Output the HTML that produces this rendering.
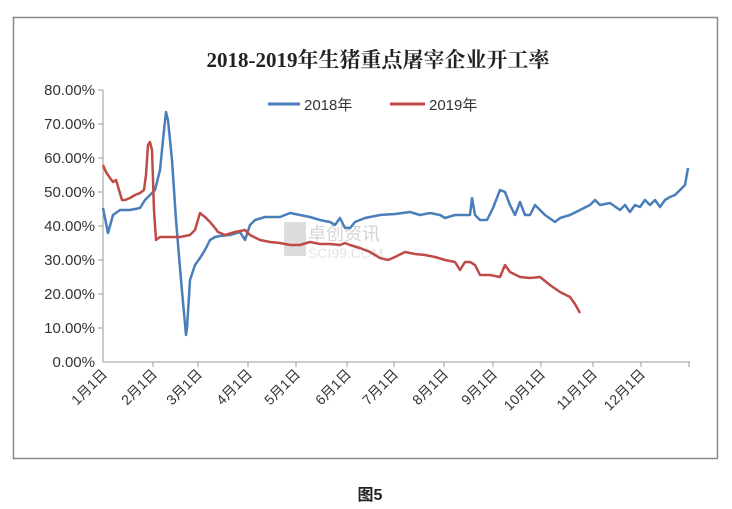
<!DOCTYPE html><html><head><meta charset="utf-8"><style>body{margin:0;background:#fff}svg{display:block}</style></head><body>
<svg width="732" height="509" xmlns="http://www.w3.org/2000/svg" font-family="Liberation Sans, Noto Sans CJK SC, sans-serif">
<rect x="13.5" y="17.5" width="704" height="441" fill="#fff" stroke="#888" stroke-width="1.5"/>
<text x="378" y="67" text-anchor="middle" font-size="21" font-weight="bold" font-family="Liberation Serif, Noto Serif CJK SC, serif" fill="#222">2018-2019年生猪重点屠宰企业开工率</text>
<g font-size="15" fill="#333" text-anchor="end">
<text x="95" y="95">80.00%</text><text x="95" y="129">70.00%</text><text x="95" y="163">60.00%</text><text x="95" y="197">50.00%</text><text x="95" y="231">40.00%</text><text x="95" y="265">30.00%</text><text x="95" y="299">20.00%</text><text x="95" y="333">10.00%</text><text x="95" y="367">0.00%</text></g>
<g stroke="#999" stroke-width="1"><line x1="103" y1="90" x2="103" y2="362"/><line x1="103" y1="362" x2="690" y2="362"/>
<line x1="98" y1="90" x2="103" y2="90"/><line x1="98" y1="124" x2="103" y2="124"/><line x1="98" y1="158" x2="103" y2="158"/><line x1="98" y1="192" x2="103" y2="192"/><line x1="98" y1="226" x2="103" y2="226"/><line x1="98" y1="260" x2="103" y2="260"/><line x1="98" y1="294" x2="103" y2="294"/><line x1="98" y1="328" x2="103" y2="328"/>
<line x1="153" y1="362" x2="153" y2="367"/><line x1="198" y1="362" x2="198" y2="367"/><line x1="248" y1="362" x2="248" y2="367"/><line x1="296" y1="362" x2="296" y2="367"/><line x1="347" y1="362" x2="347" y2="367"/><line x1="394" y1="362" x2="394" y2="367"/><line x1="444" y1="362" x2="444" y2="367"/><line x1="493" y1="362" x2="493" y2="367"/><line x1="541" y1="362" x2="541" y2="367"/><line x1="593" y1="362" x2="593" y2="367"/><line x1="641" y1="362" x2="641" y2="367"/><line x1="689" y1="362" x2="689" y2="367"/></g>
<g font-size="14" fill="#333" text-anchor="end">
<text transform="translate(108,375) rotate(-45)">1月1日</text><text transform="translate(158,375) rotate(-45)">2月1日</text><text transform="translate(203,375) rotate(-45)">3月1日</text><text transform="translate(253,375) rotate(-45)">4月1日</text><text transform="translate(301,375) rotate(-45)">5月1日</text><text transform="translate(352,375) rotate(-45)">6月1日</text><text transform="translate(399,375) rotate(-45)">7月1日</text><text transform="translate(449,375) rotate(-45)">8月1日</text><text transform="translate(498,375) rotate(-45)">9月1日</text><text transform="translate(546,375) rotate(-45)">10月1日</text><text transform="translate(598,375) rotate(-45)">11月1日</text><text transform="translate(646,375) rotate(-45)">12月1日</text></g>
<rect x="284" y="222" width="22" height="34" fill="#ddd"/><text x="308" y="240" font-size="18" fill="#d4d4d4">卓创资讯</text><text x="308" y="258" font-size="14" fill="#e4e4e4">SCI99.COM</text>
<line x1="268" y1="104" x2="300" y2="104" stroke="#4a7ebb" stroke-width="3"/><text x="304" y="110" font-size="15" fill="#333">2018年</text>
<line x1="390" y1="104" x2="425" y2="104" stroke="#be4b48" stroke-width="3"/><text x="429" y="110" font-size="15" fill="#333">2019年</text>
<polyline fill="none" stroke="#4a7ebb" stroke-width="2.5" stroke-linejoin="round" points="103,208 108,233 113,215 120,210 130,210 140,208 145,200 150,195 155,190 160,170 164,130 166,112 168,120 172,160 176,220 181,280 186,335 187,328 190,280 195,265 200,258 205,250 210,240 215,237 220,236 230,235 240,232 245,240 250,225 255,220 265,217 280,217 290,213 300,215 310,217 320,220 330,222 335,225 340,218 345,228 350,228 355,222 365,218 380,215 395,214 410,212 420,215 430,213 440,215 445,218 455,215 470,215 472,198 475,215 480,220 487,220 493,208 500,190 505,192 510,205 515,215 520,202 525,215 530,215 535,205 540,210 545,215 555,222 560,218 570,215 580,210 590,205 595,200 600,205 610,203 620,210 625,205 630,212 635,205 640,207 645,200 650,205 655,200 660,207 665,200 670,197 675,195 680,190 685,185 688,168"/>
<polyline fill="none" stroke="#be4b48" stroke-width="2.5" stroke-linejoin="round" points="103,165 106,172 110,178 113,182 116,180 119,190 122,200 125,200 130,198 135,195 140,193 144,190 146,175 148,145 150,142 152,150 154,210 156,240 160,237 170,237 180,237 190,235 195,230 200,213 205,217 210,222 215,228 218,232 225,235 235,232 245,230 250,235 260,240 270,242 280,243 290,245 300,245 310,242 320,244 330,244 340,245 345,243 350,245 360,248 370,252 380,258 388,260 395,257 405,252 415,254 425,255 435,257 445,260 455,262 460,270 465,262 470,262 475,265 480,275 490,275 500,277 505,265 510,272 520,277 530,278 540,277 550,285 560,292 570,297 575,304 580,313"/>
<text x="370" y="500" text-anchor="middle" font-size="16" font-weight="bold" fill="#222">图5</text>
</svg></body></html>
